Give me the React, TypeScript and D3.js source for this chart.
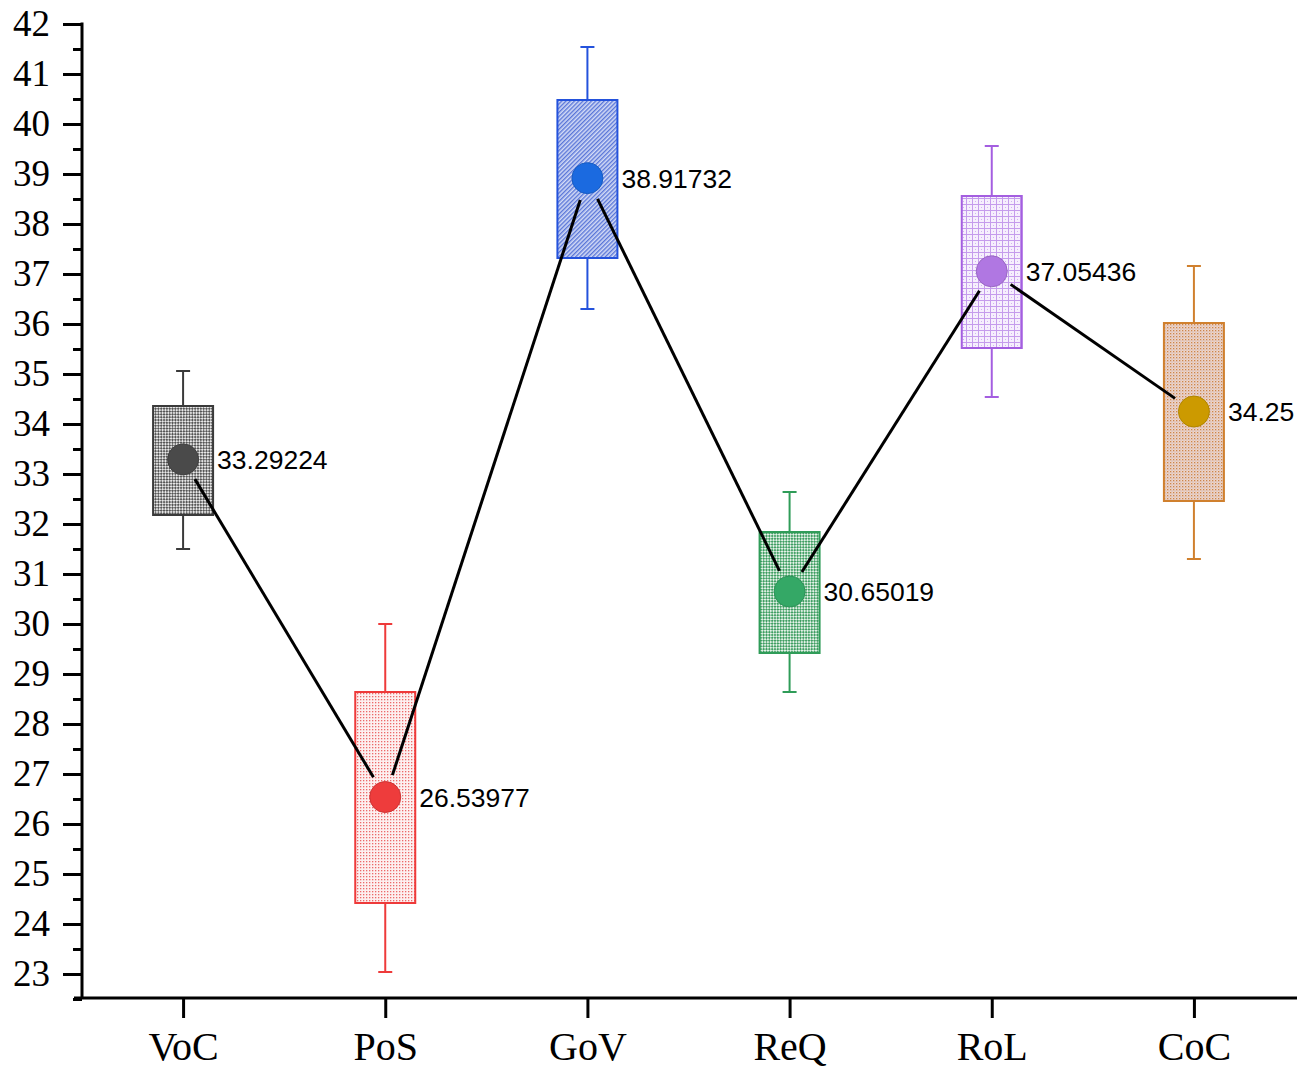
import React, { useEffect, useRef } from 'react';
import * as d3 from 'd3';

const categories = ['VoC', 'PoS', 'GoV', 'ReQ', 'RoL', 'CoC'];
const means = [33.29224, 26.53977, 38.91732, 30.65019, 37.05436, 34.25];
const meanLabels = ['33.29224', '26.53977', '38.91732', '30.65019', '37.05436', '34.25'];
const boxLow = [32.18, 24.42, 37.32, 29.42, 35.52, 32.46];
const boxHigh = [34.36, 28.64, 40.48, 31.84, 38.56, 36.02];
const whiskerLow = [31.5, 23.04, 36.3, 28.64, 34.54, 31.3];
const whiskerHigh = [35.06, 30.0, 41.54, 32.64, 39.56, 37.16];
const yTicks = d3.range(23, 43);
const yMinorTicks = d3.range(22.5, 42, 1);

const strokeColors = ['#3a3a3a', '#ee3a3a', '#2452dc', '#2f9c58', '#a45ee0', '#d0802e'];
const dotColors = ['#4a4a4a', '#ee3c3c', '#1b6ae0', '#34a866', '#b077e2', '#cc9a00'];

const App = () => {
  const svgRef = useRef<SVGSVGElement>(null);

  useEffect(() => {
    const svg = d3.select(svgRef.current);
    svg.selectAll('*').remove();

    const left = 82;
    const right = 1295;
    const top = 24;
    const bottom = 998;

    const x = d3.scalePoint<string>().domain(categories).range([left, right]).padding(0.5);
    const y = d3.scaleLinear().domain([22.52, 42]).range([bottom, top]);

    // fill patterns for the boxes
    const defs = svg.append('defs');
    const p0 = defs.append('pattern').attr('id', 'pat0').attr('width', 4).attr('height', 4)
      .attr('patternUnits', 'userSpaceOnUse').attr('patternTransform', 'rotate(45)');
    p0.append('rect').attr('width', 4).attr('height', 4).attr('fill', '#e8e8e8');
    p0.append('rect').attr('width', 2).attr('height', 2).attr('fill', '#555');
    p0.append('rect').attr('x', 2).attr('y', 2).attr('width', 2).attr('height', 2).attr('fill', '#555');

    const p1 = defs.append('pattern').attr('id', 'pat1').attr('width', 3).attr('height', 3)
      .attr('patternUnits', 'userSpaceOnUse');
    p1.append('rect').attr('width', 3).attr('height', 3).attr('fill', '#fdf0f0');
    p1.append('rect').attr('width', 1.3).attr('height', 1.3).attr('fill', '#ec6a6a');

    const p2 = defs.append('pattern').attr('id', 'pat2').attr('width', 3).attr('height', 3)
      .attr('patternUnits', 'userSpaceOnUse').attr('patternTransform', 'rotate(45)');
    p2.append('rect').attr('width', 3).attr('height', 3).attr('fill', '#d4dcf6');
    p2.append('rect').attr('width', 1.4).attr('height', 3).attr('fill', '#5a76d8');

    const p3 = defs.append('pattern').attr('id', 'pat3').attr('width', 4).attr('height', 4)
      .attr('patternUnits', 'userSpaceOnUse').attr('patternTransform', 'rotate(45)');
    p3.append('rect').attr('width', 4).attr('height', 4).attr('fill', '#e4f2e8');
    p3.append('rect').attr('width', 2).attr('height', 2).attr('fill', '#3f9e62');
    p3.append('rect').attr('x', 2).attr('y', 2).attr('width', 2).attr('height', 2).attr('fill', '#3f9e62');

    const p4 = defs.append('pattern').attr('id', 'pat4').attr('width', 6).attr('height', 6)
      .attr('patternUnits', 'userSpaceOnUse');
    p4.append('rect').attr('width', 6).attr('height', 6).attr('fill', '#f6effd');
    p4.append('rect').attr('width', 6).attr('height', 1).attr('fill', '#c59cec');
    p4.append('rect').attr('width', 1).attr('height', 6).attr('fill', '#c59cec');
    p4.append('rect').attr('x', 3).attr('y', 3).attr('width', 1).attr('height', 1).attr('fill', '#d2b2f0');

    const p5 = defs.append('pattern').attr('id', 'pat5').attr('width', 3).attr('height', 3)
      .attr('patternUnits', 'userSpaceOnUse');
    p5.append('rect').attr('width', 3).attr('height', 3).attr('fill', '#f0d6c6');
    p5.append('rect').attr('width', 1.3).attr('height', 1.3).attr('fill', '#c98450');
    p5.append('rect').attr('x', 1.5).attr('y', 1.5).attr('width', 1).attr('height', 1).attr('fill', '#b8a2b8');

    // axes
    const serif = '"Liberation Serif", "Times New Roman", serif';
    const yAxis = svg.append('g')
      .attr('transform', `translate(${left},0)`)
      .call(d3.axisLeft(y).tickValues(yTicks).tickSize(19).tickSizeOuter(0).tickPadding(13));
    yAxis.select('.domain').remove();
    yAxis.selectAll('line').attr('stroke', '#000').attr('stroke-width', 3);
    yAxis.selectAll('text')
      .attr('font-family', serif)
      .attr('font-size', 37)
      .attr('fill', '#000');

    svg.append('g')
      .attr('transform', `translate(${left},0)`)
      .call(d3.axisLeft(y).tickValues(yMinorTicks).tickSize(9).tickSizeOuter(0).tickFormat(() => ''))
      .call((g) => g.select('.domain').remove())
      .selectAll('line').attr('stroke', '#000').attr('stroke-width', 3);

    svg.append('line')
      .attr('x1', left).attr('x2', left)
      .attr('y1', top - 1.5).attr('y2', bottom)
      .attr('stroke', '#000').attr('stroke-width', 3);

    const xAxis = svg.append('g')
      .attr('transform', `translate(0,${bottom})`)
      .call(d3.axisBottom(x).tickSize(20).tickSizeOuter(0).tickPadding(14));
    xAxis.select('.domain').remove();
    xAxis.selectAll('line').attr('stroke', '#000').attr('stroke-width', 3);
    xAxis.selectAll('text')
      .attr('font-family', serif)
      .attr('font-size', 40)
      .attr('fill', '#000');

    svg.append('line')
      .attr('x1', 74).attr('x2', 1297)
      .attr('y1', bottom).attr('y2', bottom)
      .attr('stroke', '#000').attr('stroke-width', 3);

    const boxW = 60;
    const capW = 14;

    const groups = svg.selectAll('.box').data(categories).enter().append('g').attr('class', 'box');

    groups.append('line')
      .attr('x1', (d) => x(d)!).attr('x2', (d) => x(d)!)
      .attr('y1', (d, i) => y(whiskerHigh[i])).attr('y2', (d, i) => y(boxHigh[i]))
      .attr('stroke', (d, i) => strokeColors[i]).attr('stroke-width', 2);
    groups.append('line')
      .attr('x1', (d) => x(d)!).attr('x2', (d) => x(d)!)
      .attr('y1', (d, i) => y(boxLow[i])).attr('y2', (d, i) => y(whiskerLow[i]))
      .attr('stroke', (d, i) => strokeColors[i]).attr('stroke-width', 2);
    groups.append('line')
      .attr('x1', (d) => x(d)! - capW / 2).attr('x2', (d) => x(d)! + capW / 2)
      .attr('y1', (d, i) => y(whiskerHigh[i])).attr('y2', (d, i) => y(whiskerHigh[i]))
      .attr('stroke', (d, i) => strokeColors[i]).attr('stroke-width', 2);
    groups.append('line')
      .attr('x1', (d) => x(d)! - capW / 2).attr('x2', (d) => x(d)! + capW / 2)
      .attr('y1', (d, i) => y(whiskerLow[i])).attr('y2', (d, i) => y(whiskerLow[i]))
      .attr('stroke', (d, i) => strokeColors[i]).attr('stroke-width', 2);

    groups.append('rect')
      .attr('x', (d) => x(d)! - boxW / 2)
      .attr('y', (d, i) => y(boxHigh[i]))
      .attr('width', boxW)
      .attr('height', (d, i) => y(boxLow[i]) - y(boxHigh[i]))
      .attr('fill', (d, i) => `url(#pat${i})`)
      .attr('stroke', (d, i) => strokeColors[i])
      .attr('stroke-width', 2);

    // connecting line between means, stopped short of each marker
    const gap = 23;
    for (let i = 0; i < categories.length - 1; i++) {
      const ax = x(categories[i])!;
      const ay = y(means[i]);
      const bx = x(categories[i + 1])!;
      const by = y(means[i + 1]);
      const len = Math.hypot(bx - ax, by - ay);
      const ux = (bx - ax) / len;
      const uy = (by - ay) / len;
      svg.append('line')
        .attr('x1', ax + ux * gap).attr('y1', ay + uy * gap)
        .attr('x2', bx - ux * gap).attr('y2', by - uy * gap)
        .attr('stroke', '#000').attr('stroke-width', 3);
    }

    const marks = svg.selectAll('.mean').data(categories).enter().append('g').attr('class', 'mean');
    marks.append('circle')
      .attr('cx', (d) => x(d)!)
      .attr('cy', (d, i) => y(means[i]))
      .attr('r', 15.5)
      .attr('fill', (d, i) => dotColors[i])
      .attr('stroke', (d, i) => d3.color(dotColors[i])!.darker(0.4).toString())
      .attr('stroke-width', 1);
    marks.append('text')
      .attr('x', (d) => x(d)! + 34)
      .attr('y', (d, i) => y(means[i]))
      .attr('dy', '0.36em')
      .attr('font-family', '"Liberation Sans", Arial, sans-serif')
      .attr('font-size', 26.5)
      .attr('fill', '#000')
      .text((d, i) => meanLabels[i]);
  }, []);

  return (
    <svg
      ref={svgRef}
      width={1309}
      height={1072}
      style={{ position: 'absolute', left: 0, top: 0, background: '#fff' }}
    />
  );
};

export default App;
